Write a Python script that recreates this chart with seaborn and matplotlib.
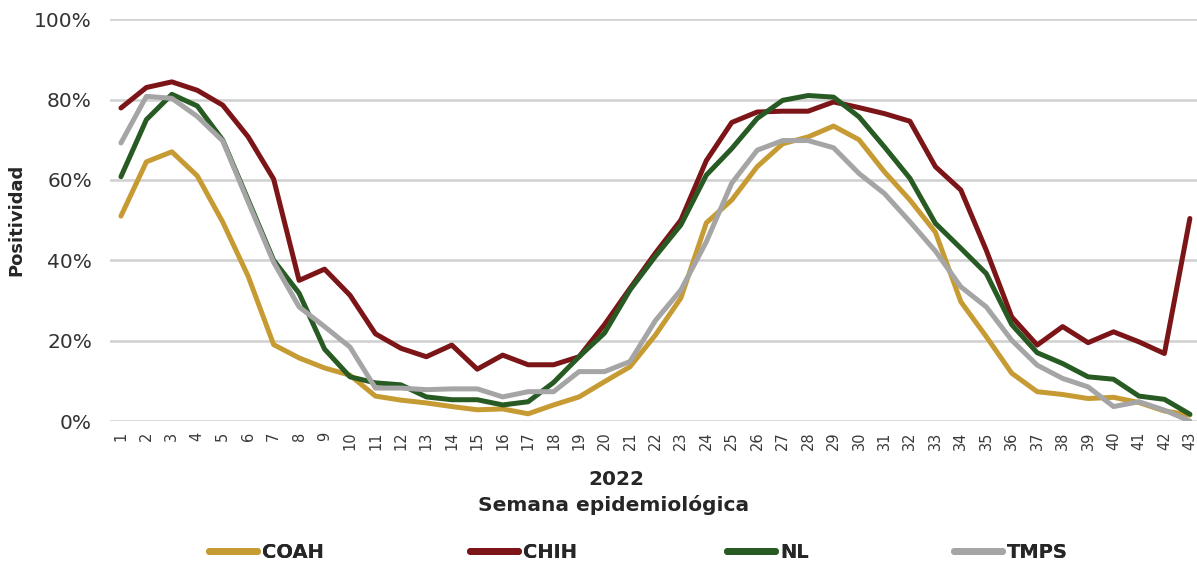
#!/usr/bin/env python3
"""
Positividad semanal por estado, 2022
"""

import numpy as np
import pandas as pd
import matplotlib.pyplot as plt
import seaborn as sns
from matplotlib.lines import Line2D

sns.set_style("white")
plt.rcParams['font.family'] = ['DejaVu Sans']

weeks = list(range(1, 44))

coah = [51, 64.5, 67, 61, 49.5, 36, 19, 15.7, 13.2, 11.4, 6.2, 5.2, 4.5, 3.6, 2.8, 3, 1.8, 4,
        6, 9.8, 13.5, 21.4, 30.6, 49.3, 55, 63.3, 69, 70.7, 73.4, 70, 62, 55, 47, 29.7,
        21, 11.9, 7.3, 6.6, 5.6, 5.9, 4.6, 2.5, 1.5]
chih = [77.9, 83, 84.4, 82.3, 78.6, 70.7, 60.2, 35, 37.8, 31.3, 21.7, 18.1, 16, 18.9, 12.9,
        16.4, 14, 14, 16, 24, 33, 41.8, 50, 64.8, 74.3, 76.9, 77.1, 77.1, 79.4, 78, 76.5,
        74.6, 63.3, 57.5, 42.5, 25.9, 18.9, 23.5, 19.5, 22.2, 19.7, 16.8, 50.4]
nl = [60.8, 75, 81.3, 78.4, 69.9, 55, 40, 31.8, 17.9, 11, 9.5, 9, 6, 5.3, 5.3, 4, 4.8, 9.6,
      16, 21.9, 32.6, 41, 48.8, 61.2, 67.8, 75.3, 79.8, 81, 80.6, 75.7, 68.2, 60.4, 49.2,
      43, 36.7, 24, 17, 14.3, 11, 10.4, 6.2, 5.4, 1.7]
tmps = [69.2, 80.8, 80.3, 75.8, 69.7, 54.5, 39.5, 28.4, 23.5, 18.4, 8.2, 8.2, 7.8, 8, 8,
        6, 7.3, 7.3, 12.3, 12.3, 14.8, 25, 32.6, 44.6, 59.2, 67.4, 69.8, 69.8, 68, 61.6,
        56.6, 49.6, 42.3, 33.4, 28.4, 20.1, 13.9, 10.6, 8.5, 3.6, 4.8, 2.7, 0]

states = ['COAH', 'CHIH', 'NL', 'TMPS']
colors = ['#C79B33', '#7C1518', '#285A24', '#A5A5A5']

df = pd.DataFrame({'Semana': weeks * 4,
                   'Positividad': coah + chih + nl + tmps,
                   'Estado': [s for s in states for _ in weeks]})

fig = plt.figure(figsize=(11.97, 5.64), dpi=100)
ax = fig.add_axes([0.0919, 0.2535, 0.9081, 0.7125])

sns.lineplot(data=df, x='Semana', y='Positividad', hue='Estado', palette=colors,
             hue_order=states, linewidth=3.6, legend=False, ax=ax)

ax.set_xlim(0.57, 43.28)
ax.set_ylim(0, 100)
ax.set_yticks([0, 20, 40, 60, 80, 100])
ax.set_yticklabels([f'{v}%' for v in [0, 20, 40, 60, 80, 100]],
                   fontsize=14.5, color='#333333')
ax.set_xticks(weeks)
ax.set_xticklabels([str(w) for w in weeks], rotation=90, fontsize=10.5, color='#3a3a3a')
ax.tick_params(axis='both', length=0)
ax.tick_params(axis='x', pad=7.5)
ax.tick_params(axis='y', pad=13)
ax.grid(axis='y', color='#D0D0D0', linewidth=1.8)
ax.set_axisbelow(True)
for s in ax.spines.values():
    s.set_visible(False)

ax.set_xlabel('')
ax.set_ylabel('Positividad', fontsize=13, fontweight='bold', labelpad=6)

fig.text(0.515, 0.149, '2022', ha='center', va='center', fontsize=14.5, fontweight='bold')
fig.text(0.513, 0.105, 'Semana epidemiológica', ha='center', va='center',
         fontsize=14.5, fontweight='bold')

# legend entries placed one by one (spacing is uneven in the original)
leg_px = [199, 460, 717, 944]
for st, col, px in zip(states, colors, leg_px):
    h = Line2D([], [], color=col, linewidth=5, solid_capstyle='round')
    leg = fig.legend([h], [st], loc='center left', bbox_to_anchor=(px / 1197, 0.02),
                     frameon=False, borderpad=0, handlelength=2.5, handletextpad=0.25,
                     prop={'size': 14, 'weight': 'bold'})
    fig.add_artist(leg)

plt.savefig('out.png', dpi=100)
plt.close()
